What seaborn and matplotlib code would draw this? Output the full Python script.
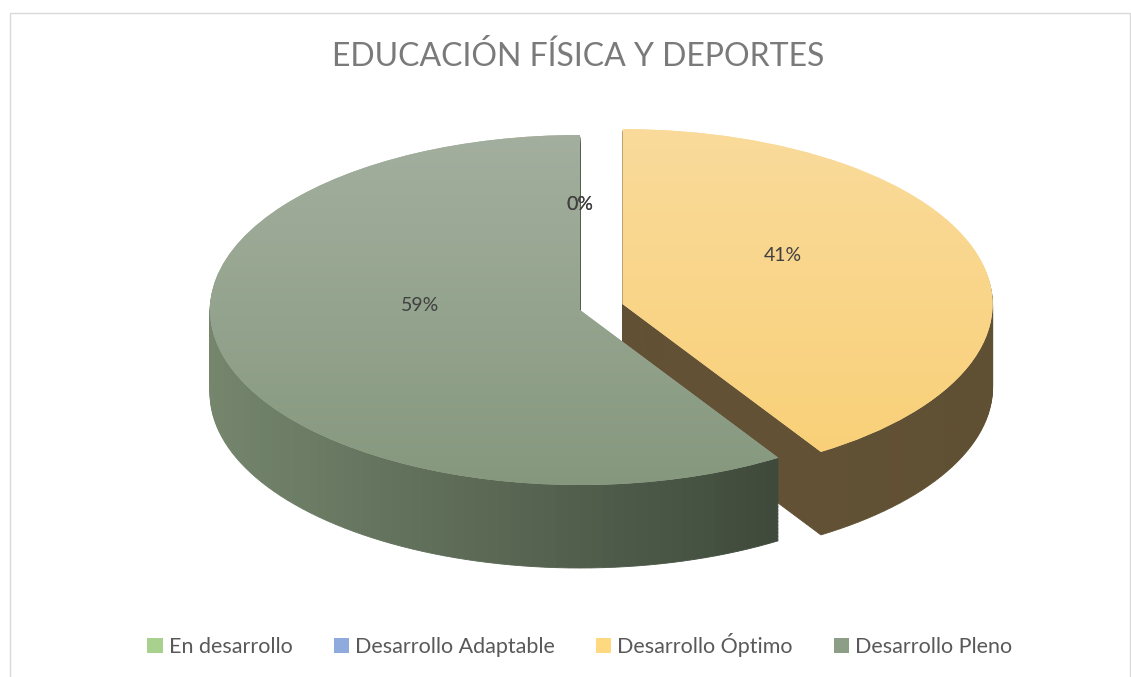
import numpy as np
import matplotlib
matplotlib.use('Agg')
import matplotlib.pyplot as plt
import seaborn as sns
from matplotlib.patches import Patch, Rectangle
from matplotlib.colors import to_rgb, LinearSegmentedColormap

# data
categories = ['En desarrollo', 'Desarrollo Adaptable', 'Desarrollo Óptimo', 'Desarrollo Pleno']
values = [0, 0, 41, 59]
explode = [0, 0, 0.12, 0]
title = 'EDUCACIÓN FÍSICA Y DEPORTES'

# colours (top face gradient: top -> bottom, side: left -> right)
legend_colors = ['#a9d18e', '#8faadc', '#ffd980', '#8d9e86']
top_grad = [('#b6daa0', '#9cc883'), ('#a0b6e2', '#849fd6'), ('#fadb9c', '#f9cf74'), ('#a5b0a0', '#84977c')]
side_grad = [('#6f8a5e', '#3e5232'), ('#5f7395', '#35425a'), ('#6c5a3b', '#5f4f33'), ('#75866d', '#2e372c')]

sns.set_theme(style='white')
plt.rcParams['font.family'] = ['Lato', 'DejaVu Sans']

# pixel geometry of the ellipse on the canvas
W, H = 1131, 677
cx, cy = 580, 310
sx, sy = 370, 175
depth = 83 / sy

fig = plt.figure(figsize=(W / 100, H / 100), dpi=100)
ax = fig.add_axes([0, 0, 1, 1])


def mix(c1, c2, t):
    a, b = np.array(to_rgb(c1)), np.array(to_rgb(c2))
    return tuple(a + (b - a) * t)


# side of the cake: each slice split into thin pieces so it can be shaded left -> right
total = sum(values)
start = 90.0
side = []
for i, v in enumerate(values):
    span = v / total * 360
    if v > 0:
        mid = np.radians(start - span / 2)
        off = (explode[i] * np.cos(mid), explode[i] * np.sin(mid))
        n = int(round(v * 2))
        fracs, cols = [], []
        for k in range(n):
            a = start - (k + 0.5) * span / n
            t = (np.cos(np.radians(a)) + 1) / 2
            fracs.append(v / total / n)
            cols.append(mix(side_grad[i][0], side_grad[i][1], t))
        side.append((start, off, fracs, cols))
    start -= span

for dy in np.linspace(-depth, -0.012, 60):
    for st, off, fracs, cols in side:
        wedges, _ = ax.pie(fracs, colors=cols, startangle=st, counterclock=False,
                           center=(off[0], dy + off[1]), radius=1, normalize=False,
                           wedgeprops=dict(linewidth=0.6))
        for w in wedges:
            w.set_edgecolor(w.get_facecolor())

# top face
wedges, _, autotexts = ax.pie(values, colors=[g[0] for g in top_grad], explode=explode,
                              startangle=90, counterclock=False, center=(0, 0), radius=1,
                              autopct='%1.0f%%', pctdistance=0.45,
                              wedgeprops=dict(linewidth=0),
                              textprops=dict(color='#404040', fontsize=14))
for i, w in enumerate(wedges):
    if values[i] == 0:
        continue
    cmap = LinearSegmentedColormap.from_list('g%d' % i, [top_grad[i][0], top_grad[i][1]])
    grad = np.linspace(0, 1, 256).reshape(-1, 1)
    im = ax.imshow(grad, cmap=cmap, extent=(-1.3, 1.4, -1.1, 1.1), origin='upper',
                   aspect='auto', zorder=2)
    im.set_clip_path(w)

for t in autotexts:
    x, y = t.get_position()
    t.set_position((x, y + 0.15))
    t.set_zorder(5)

ax.set_xlim(-cx / sx, (W - cx) / sx)
ax.set_ylim(-(H - cy) / sy, cy / sy)
ax.set_aspect('auto')
ax.axis('off')

fig.text(578 / W, 1 - 57 / H, title, ha='center', va='center', fontsize=23,
         color='#7a7a7a')

handles = [Patch(facecolor=c, edgecolor='none', label=l) for c, l in zip(legend_colors, categories)]
fig.legend(handles=handles, loc='center', bbox_to_anchor=(580 / W, 1 - 645 / H), ncol=4,
           frameon=False, fontsize=15.5, labelcolor='#595959', handlelength=0.7,
           handleheight=0.7, handletextpad=0.3, columnspacing=1.9)

fig.patches.append(Rectangle((10 / W, -0.01), 1120 / W, 1.01 - 13 / H, transform=fig.transFigure,
                             fill=False, edgecolor='#d9d9d9', linewidth=1))

fig.savefig('out.png', dpi=100)
